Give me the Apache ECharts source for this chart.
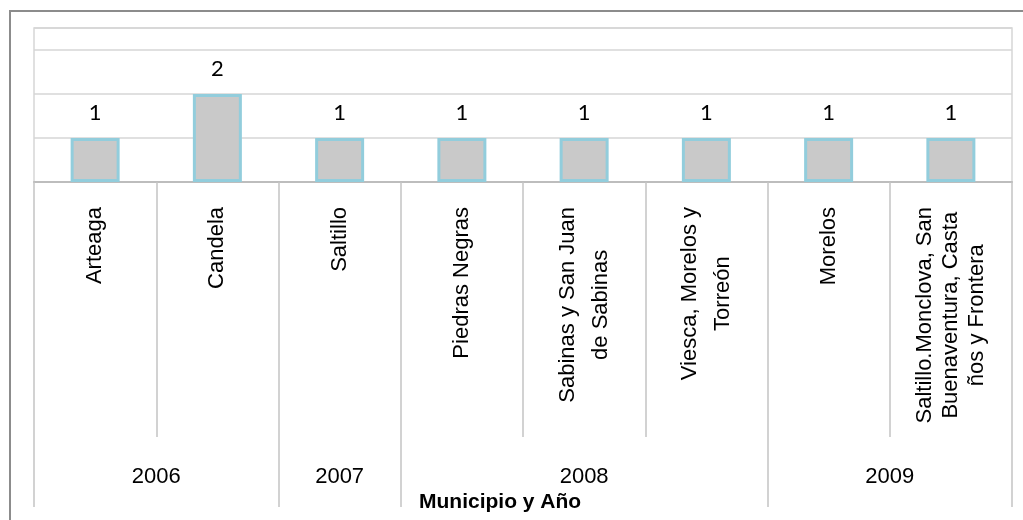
<!DOCTYPE html>
<html>
<head>
<meta charset="utf-8">
<script src="https://cdn.jsdelivr.net/npm/echarts@6/dist/echarts.min.js"></script>
<style>
  html, body { margin: 0; padding: 0; background: #fff; }
  #chart { width: 1023px; height: 520px; }
</style>
</head>
<body>
<div id="chart"></div>
<script>
// datos
const municipios = [
  'Arteaga',
  'Candela',
  'Saltillo',
  'Piedras Negras',
  'Sabinas y San Juan\nde Sabinas',
  'Viesca, Morelos y\nTorreón',
  'Morelos',
  'Saltillo.Monclova, San\nBuenaventura, Casta\nños y Frontera'
];
const casos = [1, 2, 1, 1, 1, 1, 1, 1];
const anios = ['2006', '2007', '2008', '2009'];
const municipiosPorAnio = [2, 1, 3, 2];

// limites y centros de cada año sobre el eje (en unidades de categoria)
let limites = [0];
let centros = [];
municipiosPorAnio.forEach(n => {
  let ini = limites[limites.length - 1];
  centros.push(ini + n / 2);
  limites.push(ini + n);
});
// limites de cada municipio
let separadores = municipios.map((m, i) => i).concat([municipios.length]);

const fuente = '"Liberation Sans", Arial, sans-serif';
const gris = '#c4c4c4';

let myChart = echarts.init(document.getElementById('chart'));
let option = {
  animation: false,
  title: {
    text: 'Municipio y Año',
    left: 414,
    top: 487,
    textStyle: { fontFamily: fuente, fontSize: 21, fontWeight: 'bold', color: '#000' }
  },
  graphic: [
    {
      type: 'rect',
      shape: { x: 10, y: 11, width: 1040, height: 540 },
      style: { fill: 'none', stroke: '#8c8c8c', lineWidth: 2 },
      silent: true
    }
  ],
  grid: {
    left: 34,
    right: 11,
    top: 28,
    bottom: 338,
    show: true,
    borderColor: '#d6d6d6',
    borderWidth: 1.5,
    outerBoundsMode: 'none'
  },
  xAxis: [
    {
      type: 'category',
      data: municipios,
      position: 'bottom',
      axisLine: { lineStyle: { color: '#bdbdbd', width: 2 } },
      axisTick: { show: false },
      axisLabel: {
        rotate: 90,
        margin: 25,
        interval: 0,
        formatter: function (v) {
          let lineas = v.split('\n');
          let st = lineas.length > 2 ? 'c3' : 'c';
          return lineas.map(l => '{' + st + '|' + l + '}').join('\n');
        },
        rich: {
          c: { fontFamily: fuente, fontSize: 22, color: '#000', align: 'center', lineHeight: 33 },
          c3: { fontFamily: fuente, fontSize: 22, color: '#000', align: 'center', lineHeight: 26 }
        }
      }
    },
    {
      // separadores entre municipios
      type: 'value',
      position: 'bottom',
      min: 0,
      max: municipios.length,
      axisLine: { show: false },
      splitLine: { show: false },
      axisLabel: { show: false },
      axisTick: {
        show: true,
        length: 255,
        customValues: separadores,
        lineStyle: { color: gris, width: 1.5 }
      }
    },
    {
      // separadores y etiquetas de año
      type: 'value',
      position: 'bottom',
      min: 0,
      max: municipios.length,
      axisLine: { show: false },
      splitLine: { show: false },
      axisTick: {
        show: true,
        length: 325,
        customValues: limites,
        lineStyle: { color: gris, width: 1.5 }
      },
      axisLabel: {
        customValues: centros,
        margin: 284,
        fontFamily: fuente,
        fontSize: 22,
        color: '#000',
        formatter: function (v) {
          let i = centros.indexOf(v);
          return i >= 0 ? anios[i] : '';
        }
      }
    }
  ],
  yAxis: {
    type: 'value',
    min: 0,
    max: 3.5,
    interval: 1,
    axisLine: { show: false },
    axisTick: { show: false },
    axisLabel: { show: false },
    splitLine: { lineStyle: { color: '#d6d6d6', width: 1.5 } }
  },
  series: [
    {
      type: 'bar',
      data: casos,
      barWidth: 49,
      itemStyle: { color: '#c9c9c9', borderColor: '#92cddc', borderWidth: 3 },
      label: {
        show: true,
        position: 'top',
        distance: 14,
        fontFamily: 'Lato, "Noto Sans", sans-serif',
        fontSize: 22,
        color: '#000'
      }
    }
  ]
};
myChart.setOption(option);
</script>
</body>
</html>
